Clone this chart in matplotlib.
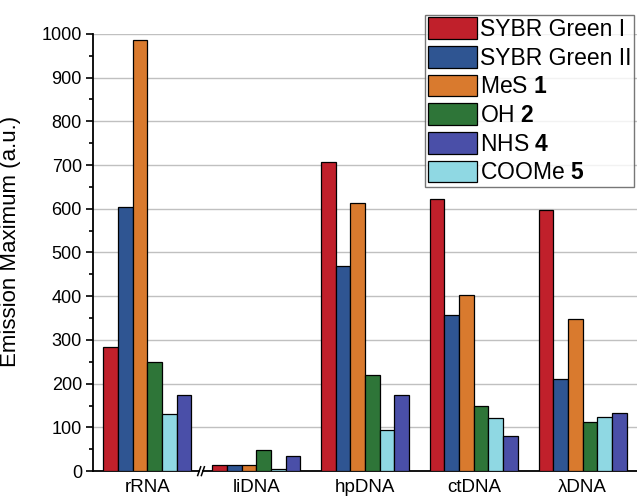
import matplotlib
matplotlib.use('Agg')
import matplotlib.pyplot as plt
from matplotlib.ticker import MultipleLocator
import numpy as np

plt.rcParams['font.family'] = ['Liberation Sans', 'DejaVu Sans']
plt.rcParams['mathtext.fontset'] = 'custom'
plt.rcParams['mathtext.rm'] = 'Liberation Sans'
plt.rcParams['mathtext.bf'] = 'Liberation Sans:bold'

# Data
categories = ['rRNA', 'liDNA', 'hpDNA', 'ctDNA', 'λDNA']
sybr1 = [283, 13, 708, 623, 596]
sybr2 = [605, 13, 470, 358, 210]
mes1 = [985, 13, 614, 403, 348]
oh2 = [250, 48, 220, 148, 112]
coome5 = [130, 5, 95, 122, 124]
nhs4 = [175, 35, 175, 80, 133]

series = [
    ('SYBR Green I', sybr1, '#c0202b'),
    ('SYBR Green II', sybr2, '#2f5592'),
    (r'MeS $\mathbf{1}$', mes1, '#d97a2e'),
    (r'OH $\mathbf{2}$', oh2, '#2e7538'),
    (r'COOMe $\mathbf{5}$', coome5, '#8fd8e3'),
    (r'NHS $\mathbf{4}$', nhs4, '#4a4fa8'),
]

fig = plt.figure(figsize=(6.37, 4.97), dpi=100)
ax = fig.add_axes([0.146, 0.052, 0.854, 0.880])

x = np.arange(len(categories))
width = 0.135
handles = {}
for i, (name, vals, col) in enumerate(series):
    offs = (i - 2.5) * width
    b = ax.bar(x + offs, vals, width, color=col, edgecolor='black', linewidth=0.9,
               label=name, zorder=3)
    handles[name] = b

ax.set_xlim(-0.5, 4.5)
ax.set_ylim(0, 1000)
ax.yaxis.set_major_locator(MultipleLocator(100))
ax.yaxis.set_minor_locator(MultipleLocator(50))
ax.tick_params(axis='y', which='major', direction='out', length=5, width=1.2, labelsize=13, pad=3)
ax.tick_params(axis='y', which='minor', direction='out', length=3, width=1.2)
ax.set_xticks(x)
ax.set_xticklabels(categories, fontsize=13.5)
ax.tick_params(axis='x', length=0, pad=6)
ax.grid(axis='y', color='#c0c0c0', linewidth=1.0, zorder=0)
ax.spines['top'].set_visible(False)
ax.spines['right'].set_visible(False)
ax.spines['left'].set_linewidth(1.3)
ax.spines['bottom'].set_linewidth(1.3)
ax.set_ylabel('Emission Maximum (a.u.)', fontsize=16)
ax.yaxis.set_label_coords(-0.132, 0.526)

# axis break marker between rRNA and liDNA
trans = ax.get_xaxis_transform()
ax.add_patch(plt.Rectangle((0.482, -0.006), 0.022, 0.012, transform=trans,
                           facecolor='white', edgecolor='none', clip_on=False, zorder=5))
for cx in (0.476, 0.510):
    ax.plot([cx - 0.014, cx + 0.014], [-0.010, 0.010], transform=trans,
            color='black', lw=1.1, clip_on=False, zorder=6)

order = ['SYBR Green I', 'SYBR Green II', r'MeS $\mathbf{1}$', r'OH $\mathbf{2}$',
         r'NHS $\mathbf{4}$', r'COOMe $\mathbf{5}$']
leg = ax.legend([handles[n] for n in order], order, loc='upper right',
                bbox_to_anchor=(0.995, 1.043), fontsize=16.5, frameon=True,
                fancybox=False, edgecolor='#555555', handlelength=2.15,
                handleheight=1.08, handletextpad=0.15, labelspacing=0.22,
                borderpad=0.1, borderaxespad=0.0)
leg.get_frame().set_linewidth(1.0)

fig.savefig('out.png', dpi=100)
